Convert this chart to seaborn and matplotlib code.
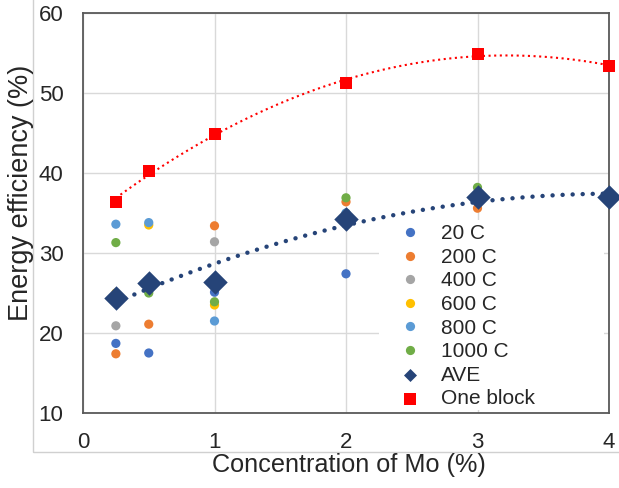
import numpy as np
import pandas as pd
import seaborn as sns
import matplotlib
matplotlib.use("Agg")
import matplotlib.pyplot as plt
from matplotlib.patches import Rectangle

# Mo concentration (%) of the measured samples
conc = [0.25, 0.5, 1, 2, 3]

# Energy efficiency (%) per treatment temperature
temps = ["20 C", "200 C", "400 C", "600 C", "800 C", "1000 C"]
eff_20 = [18.7, 17.5, 25.1, 27.4, 37.0]
eff_200 = [17.4, 21.1, 33.4, 36.4, 35.6]
eff_400 = [20.9, 26.6, 31.4, 35.0, 37.2]
eff_600 = [25.0, 33.5, 23.5, 34.8, 36.8]
eff_800 = [33.6, 33.8, 21.5, 35.0, 36.7]
eff_1000 = [31.3, 25.0, 23.9, 36.9, 38.2]

# Averages and single-block reference
ave_conc = [0.25, 0.5, 1, 2, 3, 4]
ave_eff = [24.4, 26.25, 26.4, 34.25, 37.0, 37.0]
block_conc = [0.25, 0.5, 1, 2, 3, 4]
block_eff = [36.4, 40.3, 44.9, 51.2, 54.9, 53.4]

temp_colors = ["#4472C4", "#ED7D31", "#A5A5A5", "#FFC000", "#5B9BD5", "#70AD47"]
navy = "#264478"
red = "#FF0000"
text_col = "#262626"

series = [eff_20, eff_200, eff_400, eff_600, eff_800, eff_1000]
df = pd.DataFrame({
    "conc": np.tile(conc, len(temps)),
    "eff": np.concatenate(series),
    "temp": np.repeat(temps, len(conc)),
})

sns.set_theme(style="white")
plt.rcParams["font.family"] = ["Liberation Sans", "DejaVu Sans"]

W, H = 619, 488
fig = plt.figure(figsize=(W / 100, H / 100), dpi=100)
ax = fig.add_axes([83 / W, 75 / H, 526 / W, 400 / H])

# chart-area border
fig.add_artist(Rectangle((33 / W, (H - 452) / H), 1.0, 1.0, transform=fig.transFigure,
                         fill=False, edgecolor="#D0D0D0", linewidth=1.0, zorder=0))

sns.scatterplot(data=df, x="conc", y="eff", hue="temp", hue_order=temps,
                palette=temp_colors, s=44, linewidth=0, ax=ax, zorder=3,
                clip_on=False)

# quadratic trendlines
sns.regplot(x=ave_conc, y=ave_eff, order=2, ci=None, scatter=False, ax=ax,
            color=navy, line_kws=dict(linewidth=3.2, linestyle=(0, (0.01, 2.25)),
                                      dash_capstyle="round", zorder=4))
sns.regplot(x=block_conc, y=block_eff, order=2, ci=None, scatter=False, ax=ax,
            color=red, line_kws=dict(linewidth=1.5, linestyle=(0, (1, 1.7)), zorder=4))

sns.scatterplot(x=ave_conc, y=ave_eff, marker="D", s=155, color=navy, linewidth=0,
                ax=ax, zorder=5, label="AVE", clip_on=False)
sns.scatterplot(x=block_conc, y=block_eff, marker="s", s=80, color=red, linewidth=0,
                ax=ax, zorder=5, label="One block", clip_on=False)

ax.set_xlim(0, 4)
ax.set_ylim(10, 60)
ax.set_xticks([0, 1, 2, 3, 4])
ax.set_yticks([10, 20, 30, 40, 50, 60])
ax.grid(True, color="#D9D9D9", linewidth=1.0)
ax.set_axisbelow(True)
for sp in ax.spines.values():
    sp.set_color("#595959")
    sp.set_linewidth(1.3)
    sp.set_visible(True)
ax.tick_params(axis="both", length=0, labelsize=16, colors=text_col)
ax.tick_params(axis="y", pad=14)
ax.tick_params(axis="x", pad=14)
ax.set_xlabel("")
ax.set_ylabel("")

fig.text(349 / W, (H - 465) / H, "Concentration of Mo (%)", fontsize=18.2,
         color=text_col, ha="center", va="center")
fig.text(21 / W, (H - 193) / H, "Energy efficiency (%)", fontsize=19.5,
         color=text_col, ha="center", va="center", rotation=90)

# white backing behind the legend block
ax.add_patch(Rectangle(((379 - 83) / 526, (413 - 410) / 400), (604 - 379) / 526,
                       (410 - 220) / 400, transform=ax.transAxes,
                       facecolor="white", edgecolor="none", zorder=2.5))

handles, labels = ax.get_legend_handles_labels()
order = temps + ["AVE", "One block"]
hmap = dict(zip(labels, handles))
leg = ax.legend([hmap[k] for k in order], order, loc="lower right",
                bbox_to_anchor=(0.891, -0.03), frameon=False, fontsize=15,
                labelspacing=0.22, handletextpad=0.9, borderpad=0.3,
                handlelength=1.2)
for txt in leg.get_texts():
    txt.set_color(text_col)
legend_sizes = [44] * len(temps) + [44, 64]
for h, sz in zip(leg.legend_handles, legend_sizes):
    if hasattr(h, "set_sizes"):
        h.set_sizes([sz])
    else:
        h.set_markersize(np.sqrt(sz))
leg.set_zorder(6)

fig.savefig("out.png", dpi=100)
